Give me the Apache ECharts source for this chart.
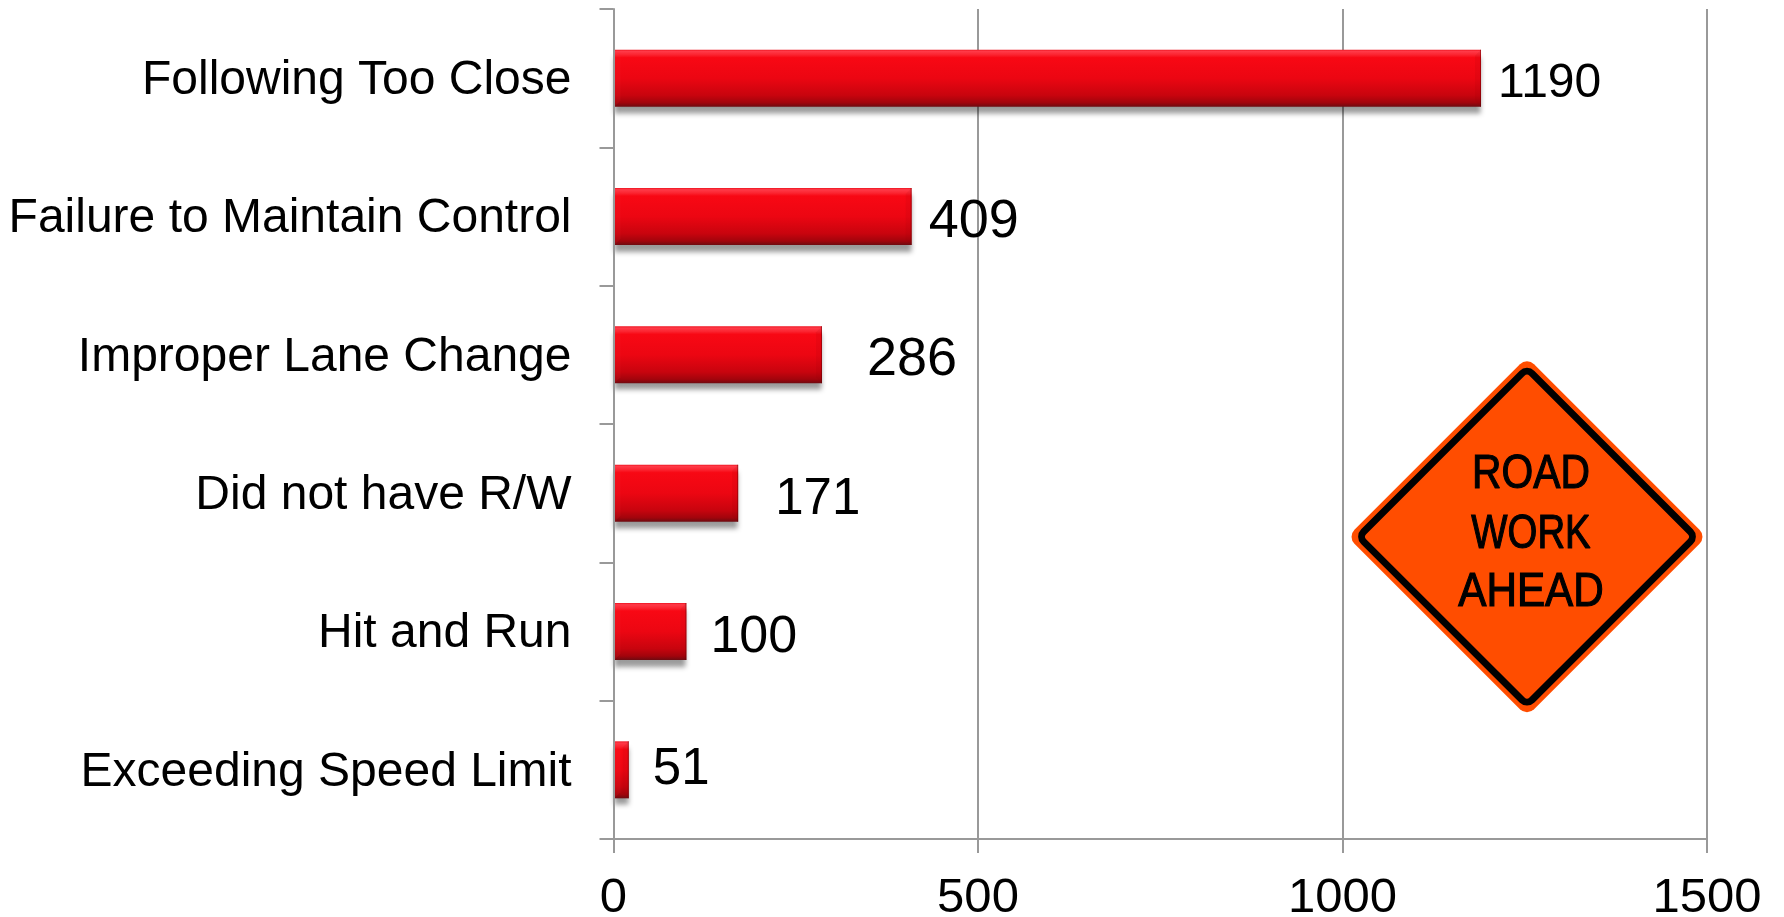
<!DOCTYPE html>
<html>
<head>
<meta charset="utf-8">
<title>Work zone crash causes</title>
<script src="https://cdn.jsdelivr.net/npm/echarts@6/dist/echarts.min.js"></script>
<style>
html, body { margin: 0; padding: 0; background: #fff; }
#chart { width: 1784px; height: 917px; }
</style>
</head>
<body>
<div id="chart"></div>
<script>
var categories = ['Following Too Close', 'Failure to Maintain Control', 'Improper Lane Change', 'Did not have R/W', 'Hit and Run', 'Exceeding Speed Limit'];
// drawn bar lengths, the last bar in the picture is shorter than its label says
var barValues = [1190, 409, 286, 171, 100, 21];
var barLabels = ['1190', '409', '286', '171', '100', '51'];
var valueTicks = [0, 500, 1000, 1500];
var signLines = ['ROAD', 'WORK', 'AHEAD'];

// labels were placed and sized by hand in the original
var labelNudgeX = [0, 0, 28, 20, 7, 7];
var labelNudgeY = [5.5, 6, 5.5, 6.5, 6.5, 0];
var labelSizes = [48, 54, 54, 51, 52, 51];

var fontName = '"Liberation Sans", Arial, sans-serif';
var axisColor = '#999999';
var barHeight = 57;

var myChart = echarts.init(document.getElementById('chart'));

var barGradient = new echarts.graphic.LinearGradient(0, 0, 0, 1, [
	{ offset: 0, color: '#ee1420' },
	{ offset: 0.03, color: '#ff3a48' },
	{ offset: 0.09, color: '#fb2430' },
	{ offset: 0.14, color: '#f80814' },
	{ offset: 0.5, color: '#ec0612' },
	{ offset: 0.8, color: '#c8040e' },
	{ offset: 0.93, color: '#a2040c' },
	{ offset: 1, color: '#6e0a10' }
]);

function signGraphic() {
	var cx = 1527, cy = 536.7;
	var textY = [475, 534.5, 593];
	var textScale = [0.85, 0.8, 0.88];
	var items = [
		{ type: 'rect', x: cx, y: cy, rotation: Math.PI / 4, shape: { x: -127, y: -127, width: 254, height: 254, r: 10 }, style: { fill: '#ff4d00' }, z: 10 },
		{ type: 'rect', x: cx, y: cy, rotation: Math.PI / 4, shape: { x: -119, y: -119, width: 238, height: 238, r: 7 }, style: { fill: 'none', stroke: '#000', lineWidth: 7 }, z: 11 }
	];
	for (var i = 0; i < signLines.length; i++) {
		items.push({
			type: 'text',
			x: 1531,
			y: textY[i],
			scaleX: textScale[i],
			z: 12,
			style: {
				text: signLines[i],
				font: '48px "Liberation Sans", sans-serif',
				fill: '#000',
				stroke: '#000',
				lineWidth: 1.2,
				textAlign: 'center',
				textVerticalAlign: 'middle'
			}
		});
	}
	return items;
}

var labelData = barValues.map(function (v, i) {
	return {
		value: v,
		label: {
			formatter: barLabels[i],
			fontSize: labelSizes[i],
			offset: [labelNudgeX[i], labelNudgeY[i]]
		}
	};
});

var option = {
	backgroundColor: '#fff',
	animation: false,
	grid: { left: 613.5, right: 77, top: 9, bottom: 78, containLabel: false, outerBoundsMode: 'none' },
	xAxis: {
		type: 'value',
		min: valueTicks[0],
		max: valueTicks[valueTicks.length - 1],
		interval: valueTicks[1] - valueTicks[0],
		axisLine: { show: true, lineStyle: { color: axisColor, width: 2 } },
		axisTick: { show: true, length: 14, lineStyle: { color: axisColor, width: 2 } },
		axisLabel: {
			color: '#000',
			fontFamily: fontName,
			fontSize: 49,
			margin: 35,
			hideOverlap: false,
			formatter: function (v) { return String(v); }
		},
		splitLine: { show: true, lineStyle: { color: axisColor, width: 2 } }
	},
	yAxis: {
		type: 'category',
		inverse: true,
		z: 5,
		data: categories,
		axisLine: { show: true, lineStyle: { color: axisColor, width: 2 } },
		axisTick: { show: true, length: 14, lineStyle: { color: axisColor, width: 2 } },
		axisLabel: {
			margin: 42,
			interval: 0,
			formatter: function (v) { return '{a|' + v + '}'; },
			rich: { a: { color: '#000', fontFamily: fontName, fontSize: 48, padding: [5, 0, 0, 0] } }
		}
	},
	series: [
		{
			type: 'bar',
			barWidth: barHeight,
			data: labelData,
			itemStyle: {
				color: barGradient,
				shadowColor: 'rgba(0,0,0,0.4)',
				shadowBlur: 5,
				shadowOffsetY: 7
			},
			label: {
				show: true,
				position: 'right',
				distance: 17,
				color: '#000',
				fontFamily: fontName
			},
			z: 2
		},
		{
			// bevelled ends of the bars
			type: 'custom',
			data: barValues.map(function (v, i) { return [i, v]; }),
			encode: { x: 1, y: 0 },
			renderItem: function (params, api) {
				var cat = api.value(0);
				var end = api.coord([api.value(1), cat]);
				var start = api.coord([0, cat]);
				var top = end[1] - barHeight / 2;
				var bottom = end[1] + barHeight / 2;
				var b = Math.min(6, (end[0] - start[0]) / 2);
				var x0 = start[0] + 1;
				var x1 = end[0];
				return {
					type: 'group',
					children: [
						{ type: 'polygon', shape: { points: [[x1, top], [x1 - b, top + b], [x1 - b, bottom - b], [x1, bottom]] }, style: { fill: 'rgba(150,0,10,0.1)' } },
						{ type: 'polygon', shape: { points: [[x0, top], [x0 + b, top + b], [x0 + b, bottom - b], [x0, bottom]] }, style: { fill: 'rgba(255,60,70,0.1)' } },
						{ type: 'rect', shape: { x: x1 - 1, y: top, width: 1, height: bottom - top }, style: { fill: 'rgba(90,0,5,0.45)' } }
					]
				};
			},
			silent: true,
			z: 3
		}
	],
	graphic: signGraphic()
};

myChart.setOption(option);
</script>
</body>
</html>
